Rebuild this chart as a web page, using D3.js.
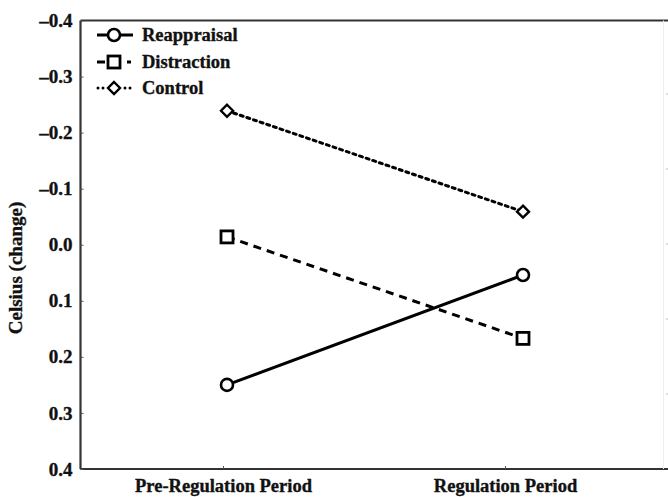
<!DOCTYPE html>
<html><head><meta charset="utf-8">
<script src="https://cdn.jsdelivr.net/npm/d3@7"></script>
<style>html,body{margin:0;padding:0;background:#fff;}svg{display:block;}</style>
</head><body>
<svg id="c" width="668" height="497"></svg>
<script>
const periods = ["Pre-Regulation Period", "Regulation Period"];
const reappraisal = [0.250, 0.054];
const distraction = [-0.014, 0.167];
const control = [-0.239, -0.059];
const yTicks = [-0.4, -0.3, -0.2, -0.1, 0.0, 0.1, 0.2, 0.3, 0.4];
const rightTicks = [0, 1, 2, 3, 4];
const seriesNames = ["Reappraisal", "Distraction", "Control"];

const svg = d3.select("#c");
const F = "'Liberation Serif','Times New Roman',serif";
const pLeft = 80.5, pRight = 668, pTop = 20.5, pBottom = 469;

const y = d3.scaleLinear().domain([-0.4, 0.4]).range([pTop, pBottom]);
const xData = d3.scalePoint().domain(periods).range([227, 523]);
const xAxis = d3.scalePoint().domain(periods).range([223, 505]);
const yRight = d3.scaleLinear().domain([0, 4]).range([94, 394]);

function boldText(sel, size) {
  sel.attr("font-family", F).attr("font-weight", "bold").attr("font-size", size)
    .attr("fill", "#111").attr("stroke", "#111").attr("stroke-width", 0.35);
}

// frame lines
svg.append("line").attr("x1", pLeft).attr("x2", pRight).attr("y1", pTop).attr("y2", pTop)
  .attr("stroke", "#333").attr("stroke-width", 2.2);
svg.append("line").attr("x1", pLeft).attr("x2", pRight).attr("y1", pBottom).attr("y2", pBottom)
  .attr("stroke", "#333").attr("stroke-width", 2.2);
svg.append("line").attr("x1", 663.5).attr("x2", 663.5).attr("y1", pTop).attr("y2", pBottom)
  .attr("stroke", "#eee").attr("stroke-width", 1);

// left axis
const ya = svg.append("g").attr("transform", `translate(${pLeft},0)`)
  .call(d3.axisLeft(y).tickValues(yTicks).tickSize(-3).tickPadding(8)
    .tickFormat(d => d3.format(".1f")(d).replace("−", "–")));
ya.select(".domain").attr("stroke", "#333").attr("stroke-width", 2.2).attr("d", `M0,${pTop}V${pBottom}`);
ya.selectAll(".tick line").attr("stroke", "#555");
boldText(ya.selectAll("text"), 19);

// right faint ticks
svg.append("g").selectAll("line").data(rightTicks).join("line")
  .attr("x1", 666).attr("x2", 668).attr("y1", d => yRight(d)).attr("y2", d => yRight(d))
  .attr("stroke", "#bbb");

// bottom axis
const xa = svg.append("g").attr("transform", `translate(0,${pBottom})`)
  .call(d3.axisBottom(xAxis).tickSize(-3).tickPadding(10));
xa.select(".domain").remove();
xa.selectAll(".tick line").attr("stroke", "#555");
boldText(xa.selectAll("text"), 18.5);

// y title
boldText(svg.append("text").attr("transform", `translate(22,268) rotate(-90)`)
  .attr("text-anchor", "middle").text("Celsius (change)"), 19);

const styles = {
  Reappraisal: { dash: null, marker: "circle" },
  Distraction: { dash: "8,6", marker: "square" },
  Control: { dash: "3,4", marker: "diamond" }
};
const dataMap = { Reappraisal: reappraisal, Distraction: distraction, Control: control };

function marker(g, type, cx, cy) {
  if (type === "circle") {
    g.append("circle").attr("cx", cx).attr("cy", cy).attr("r", 6)
      .attr("fill", "#fff").attr("stroke", "#000").attr("stroke-width", 2.6);
  } else if (type === "square") {
    g.append("rect").attr("x", cx - 6).attr("y", cy - 6).attr("width", 12).attr("height", 12)
      .attr("fill", "#fff").attr("stroke", "#000").attr("stroke-width", 2.8);
  } else {
    g.append("path").attr("d", `M${cx},${cy - 6}L${cx + 6},${cy}L${cx},${cy + 6}L${cx - 6},${cy}Z`)
      .attr("fill", "#fff").attr("stroke", "#000").attr("stroke-width", 2.4);
  }
}

const line = d3.line().x((d, i) => xData(periods[i])).y(d => y(d));
seriesNames.forEach(name => {
  const st = styles[name];
  const vals = dataMap[name];
  const g = svg.append("g");
  g.append("path").attr("d", line(vals)).attr("fill", "none").attr("stroke", "#000")
    .attr("stroke-width", 3).attr("stroke-dasharray", st.dash)
    .attr("stroke-linecap", st.marker === "diamond" ? "round" : "butt");
  vals.forEach((v, i) => marker(g, st.marker, xData(periods[i]), y(v)));
});

// legend
const legY = [35, 62, 88];
seriesNames.forEach((name, i) => {
  const st = styles[name];
  const g = svg.append("g");
  const ly = legY[i];
  if (name === "Reappraisal") {
    g.append("line").attr("x1", 97).attr("x2", 133).attr("y1", ly).attr("y2", ly)
      .attr("stroke", "#000").attr("stroke-width", 3);
  } else if (name === "Distraction") {
    g.append("line").attr("x1", 97).attr("x2", 105).attr("y1", ly).attr("y2", ly).attr("stroke", "#000").attr("stroke-width", 3);
    g.append("line").attr("x1", 127).attr("x2", 131).attr("y1", ly).attr("y2", ly).attr("stroke", "#000").attr("stroke-width", 3);
  } else {
    [98, 103, 125, 130].forEach(px => g.append("circle").attr("cx", px).attr("cy", ly).attr("r", 1.5).attr("fill", "#000"));
  }
  marker(g, st.marker, 114, ly);
  boldText(g.append("text").attr("x", 142).attr("y", ly).attr("dy", "0.35em").text(name), 18.5);
});
</script>
</body></html>
